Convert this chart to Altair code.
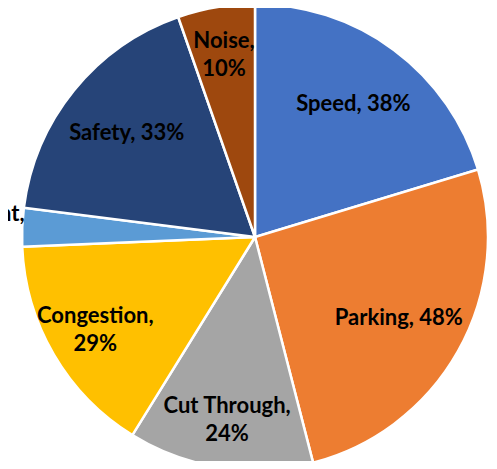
import altair as alt
import pandas as pd

categories = ["Speed", "Parking", "Cut Through", "Congestion", "Enforcement", "Safety", "Noise"]
values = [38, 48, 24, 29, 5, 33, 10]
labels = ["Speed, 38%", "Parking, 48%", "Cut Through,\n24%", "Congestion,\n29%",
          "Enforcement,\n5%", "Safety, 33%", "Noise,\n10%"]
colors = ["#4472C4", "#ED7D31", "#A5A5A5", "#FFC000", "#5B9BD5", "#264478", "#9E480E"]
outside = [False, False, False, False, True, False, False]

df = pd.DataFrame({
    "category": categories,
    "value": values,
    "label": labels,
    "order": list(range(len(categories))),
    "outside": outside,
})

CX, CY = 247, 229

base = alt.Chart(df).encode(
    theta=alt.Theta("value:Q", stack=True),
    order=alt.Order("order:Q"),
    x=alt.value(CX),
    y=alt.value(CY),
)

arcs = base.mark_arc(radius=233, stroke="white", strokeWidth=2.5).encode(
    color=alt.Color("category:N", scale=alt.Scale(domain=categories, range=colors), legend=None)
)

text_style = dict(font="Lato", fontSize=22, fontWeight="bold", color="black",
                  lineBreak="\n", lineHeight=28, align="center", baseline="middle")

multi = "indexof(datum.label, '\\n') >= 0"

inside_single = base.mark_text(radius=165, **text_style).encode(
    text=alt.condition(f"datum.outside || {multi}", alt.value(""), alt.Text("label:N"))
)

inside_multi = base.mark_text(radius=185, dy=-14, **text_style).encode(
    text=alt.condition(f"!datum.outside && {multi}", alt.Text("label:N"), alt.value(""))
)

outside_text = base.mark_text(radius=296, dy=-11, **text_style).encode(
    text=alt.condition("datum.outside", alt.Text("label:N"), alt.value(""))
)

chart = alt.layer(arcs, inside_single, inside_multi, outside_text).properties(
    width=481, height=453, autosize=alt.AutoSizeParams(type="none"), padding=0
).configure_view(stroke=None)

chart.save("out.html", embed_options={"renderer": "svg", "actions": False})
